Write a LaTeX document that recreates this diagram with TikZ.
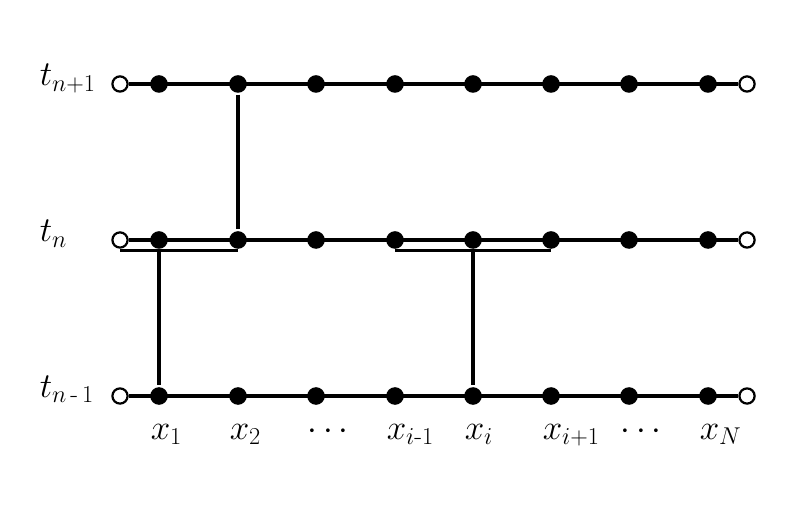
\documentclass[tikz,border=0pt]{standalone}
\usepackage{amsmath}
\usetikzlibrary{positioning}
\tikzset{
	dot/.style={circle, fill, inner sep=0pt, minimum size=0.44cm},
	hole/.style={circle, draw, fill=white, line width=1.6pt, inner sep=0pt, minimum size=0.38cm},
	lbl/.style={font=\fontsize{26}{31}\selectfont, inner sep=0pt},
}
\begin{document}
\begin{tikzpicture}[x=0.025cm, y=-0.025cm, line width=2.5pt]
		\useasboundingbox (0,0) rectangle (800,523);
		
		% time levels
		\foreach \r/\y in {p/84, n/240, m/396} {
			\node[hole] (o0-\r) at (120,\y) {};
			\node[hole] (o9-\r) at (747,\y) {};
			\foreach \k/\x in {1/159, 2/238, 3/316, 4/395, 5/473, 6/551, 7/629, 8/708}
				\node[dot] (d\k-\r) at (\x,\y) {};
			\draw (o0-\r) -- (o9-\r);
		}
		
		\node[lbl, anchor=base west] (tp) at (38,86) {$t_{n+1}$};
		\node[lbl, anchor=base west] (tn) at (38,242) {$t_n$};
		\node[lbl, anchor=base west] (tm) at (38,397) {$t_{n\,\text{-}\,1}$};
		
		% grid points
		\foreach \k/\x/\t in {1/159/x_1, 2/238/x_2, 3/316/\cdots, 4/395/x_{i\text{-}1}, 5/473/x_i, 6/551/x_{i+1}, 7/629/\cdots, 8/708/x_N}
			\node[lbl, anchor=base west] (x\k) at (\x-10,439) {$\t$};
		
		\draw (d2-p) -- (d2-n);
		\draw (d1-n) -- (d1-m);
		\draw (d5-n) -- (d5-m);
		
		\draw (o0-n.center |- d2-n.south) -- (d2-n.south);
		\draw (d4-n.south) -- (d6-n.south);
		
	\end{tikzpicture}
\end{document}
